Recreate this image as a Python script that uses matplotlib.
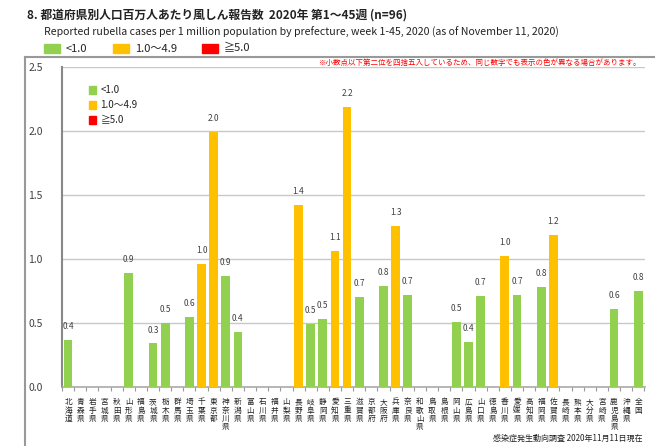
import matplotlib
matplotlib.use('Agg')
import matplotlib.pyplot as plt
from matplotlib.patches import Rectangle
from matplotlib.lines import Line2D

plt.rcParams['font.family'] = ['Noto Sans CJK JP', 'DejaVu Sans']

# data
prefectures = ['北海道', '青森県', '岩手県', '宮城県', '秋田県', '山形県', '福島県', '茨城県',
               '栃木県', '群馬県', '埼玉県', '千葉県', '東京都', '神奈川県', '新潟県', '富山県',
               '石川県', '福井県', '山梨県', '長野県', '岐阜県', '静岡県', '愛知県', '三重県',
               '滋賀県', '京都府', '大阪府', '兵庫県', '奈良県', '和歌山県', '鳥取県', '島根県',
               '岡山県', '広島県', '山口県', '徳島県', '香川県', '愛媛県', '高知県', '福岡県',
               '佐賀県', '長崎県', '熊本県', '大分県', '宮崎県', '鹿児島県', '沖縄県', '全国']
rates = [0.37, 0, 0, 0, 0, 0.89, 0, 0.34,
         0.50, 0, 0.55, 0.96, 1.99, 0.87, 0.43, 0,
         0, 0, 0, 1.42, 0.49, 0.53, 1.06, 2.19,
         0.70, 0, 0.79, 1.26, 0.72, 0, 0, 0,
         0.51, 0.35, 0.71, 0, 1.02, 0.72, 0, 0.78,
         1.19, 0, 0, 0, 0, 0.61, 0, 0.75]
labels = ['0.4', '', '', '', '', '0.9', '', '0.3',
          '0.5', '', '0.6', '1.0', '2.0', '0.9', '0.4', '',
          '', '', '', '1.4', '0.5', '0.5', '1.1', '2.2',
          '0.7', '', '0.8', '1.3', '0.7', '', '', '',
          '0.5', '0.4', '0.7', '', '1.0', '0.7', '', '0.8',
          '1.2', '', '', '', '', '0.6', '', '0.8']
classes = ['<1.0', '1.0～4.9', '≧5.0']
class_colors = ['#92D050', '#FFC000', '#FF0000']
yticks = [0.0, 0.5, 1.0, 1.5, 2.0, 2.5]


def color_for(v, lab):
    x = float(lab) if lab else v
    if x >= 5.0:
        return class_colors[2]
    if x >= 1.0:
        return class_colors[1]
    return class_colors[0]


fig = plt.figure(figsize=(6.55, 4.46), dpi=100)

# outer frame lines (left and top)
fig.add_artist(Line2D([25/655, 25/655], [0, 1 - 57/446], color='#999999', lw=1.5))
fig.add_artist(Line2D([25/655, 1], [1 - 57/446, 1 - 57/446], color='#999999', lw=1.5))

# titles
fig.text(27/655, 1 - 15/446, '8. 都道府県別人口百万人あたり風しん報告数  2020年 第1～45週 (n=96)',
         fontsize=8.5, fontweight='bold', va='center', ha='left', color='#222222')
fig.text(44/655, 1 - 32/446,
         'Reported rubella cases per 1 million population by prefecture, week 1-45, 2020 (as of November 11, 2020)',
         fontsize=7.6, va='center', ha='left', color='#222222')

# top legend
lx = [44, 113, 202]
for x0, lab, c in zip(lx, classes, class_colors):
    fig.add_artist(Rectangle((x0/655, 1 - 53/446), 16/655, 9/446, color=c))
    fig.text((x0 + 22)/655, 1 - 48.5/446, lab, fontsize=8, va='center', ha='left', color='#222222')

# red note
fig.text(641/655, 1 - 63/446,
         '※小数点以下第二位を四捨五入しているため、同じ数字でも表示の色が異なる場合があります。',
         fontsize=5.4, color='#FF0000', va='center', ha='right')

ax = fig.add_axes([62/655, 1 - 387/446, (645 - 62)/655, (387 - 67)/446])
xs = list(range(len(prefectures)))
cols = [color_for(v, l) for v, l in zip(rates, labels)]
ax.bar(xs, rates, width=0.72, color=cols, zorder=3)

for x, v, l in zip(xs, rates, labels):
    if l:
        ax.text(x, v + 0.07, l, ha='center', va='bottom', fontsize=6, color='#404040', zorder=4)

ax.set_xlim(-0.5, len(prefectures) - 0.45)
ax.set_ylim(0, 2.5)
ax.set_yticks(yticks)
ax.set_yticklabels([f'{t:.1f}' for t in yticks], fontsize=7.5, color='#404040')
ax.yaxis.grid(True, color='#C8C8C8', lw=1, zorder=0)
ax.tick_params(axis='y', length=0, pad=14)
ax.tick_params(axis='x', length=3, color='#999999')
ax.set_xticks([x - 0.5 for x in xs] + [len(xs) - 0.5])
ax.set_xticklabels([])
for s in ['top', 'right']:
    ax.spines[s].set_visible(False)
ax.spines['left'].set_color('#888888')
ax.spines['left'].set_linewidth(1.5)
ax.spines['bottom'].set_color('#AAAAAA')
ax.spines['bottom'].set_linewidth(1.2)

# vertical prefecture names
for x, name in zip(xs, prefectures):
    ax.text(x, -0.035, '\n'.join(name), transform=ax.get_xaxis_transform(),
            ha='center', va='top', fontsize=5.5, linespacing=1.05, color='#222222')

# inner legend
for i, (lab, c) in enumerate(zip(classes, class_colors)):
    y = 1 - (90 + 15 * i - 67) / 320
    ax.add_patch(Rectangle((0.0455, y - 0.012), 0.013, 0.026, color=c,
                           transform=ax.transAxes, clip_on=False))
    ax.text(0.066, y, lab, transform=ax.transAxes, fontsize=7, va='center', ha='left', color='#222222')

fig.text(493/655, 1 - 438/446, '感染症発生動向調査 2020年11月11日現在', fontsize=5.8,
         ha='left', va='center', color='#222222')

fig.savefig('out.png', dpi=100)
